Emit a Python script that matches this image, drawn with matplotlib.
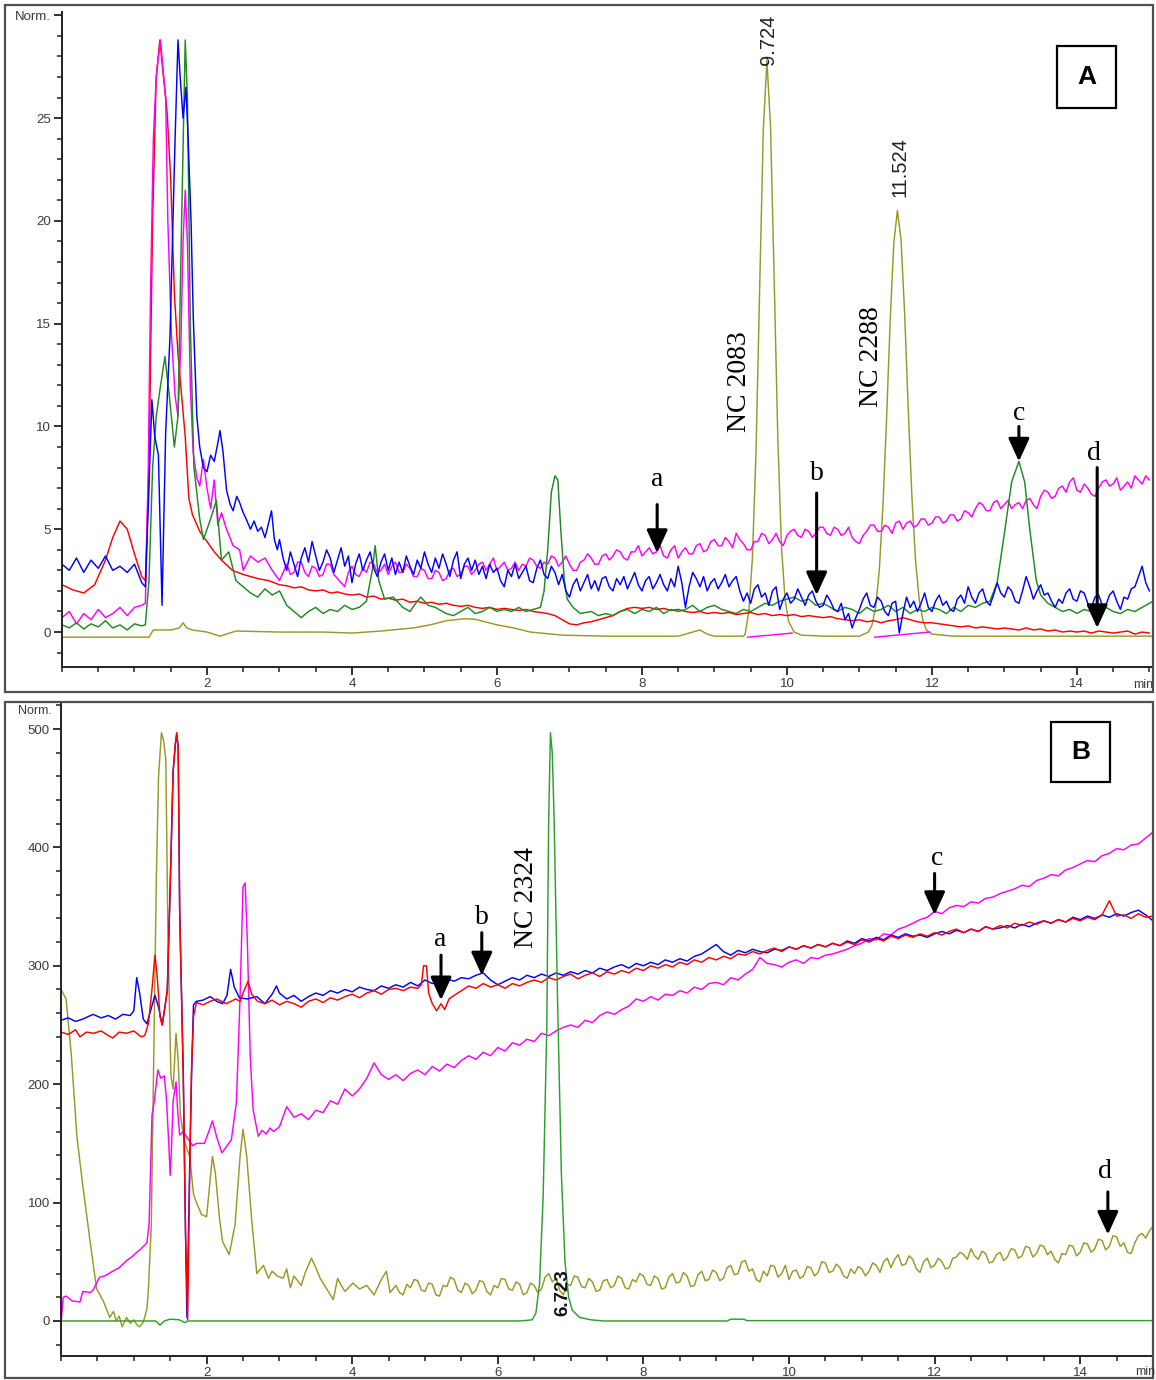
import numpy as np
import matplotlib
matplotlib.use("Agg")
import matplotlib.pyplot as plt
from matplotlib.patches import Rectangle
from matplotlib.ticker import MultipleLocator, FixedLocator

W, H = 1156, 1380
RED = "#ff0000"; BLUE = "#0000ff"; GREEN = "#1f8a1f"; OLIVE = "#9a9826"; MAG = "#ff00ff"
SANS = ["Liberation Sans Narrow", "Liberation Sans", "DejaVu Sans"]
SERIF = ["Liberation Serif", "DejaVu Serif"]


def grid(t0, vals, step=0.1):
    return [round(t0 + step * i, 3) for i in range(len(vals))]


def cat(*segs):
    t, y = [], []
    for st, sy in segs:
        t += list(st); y += list(sy)
    return np.array(t), np.array(y)

# ---------------- Panel A data (minutes, Norm.) ----------------
A_red_pk_t = [0, 0.15, 0.3, 0.45, 0.6, 0.7, 0.8, 0.9, 1.0, 1.1, 1.15, 1.2, 1.25, 1.3, 1.35, 1.4, 1.45, 1.5,
              1.55, 1.6, 1.65, 1.7, 1.75, 1.8, 1.9, 2.0, 2.1, 2.2, 2.35, 2.5, 2.7, 2.85]
A_red_pk_y = [2.3, 2.05, 1.9, 2.3, 3.5, 4.6, 5.4, 5.0, 3.8, 2.7, 2.5, 8.0, 20.0, 27.0, 28.8, 27.0, 25.3, 22.0,
              16.5, 13.5, 11.5, 9.5, 6.5, 5.7, 4.9, 4.4, 3.9, 3.5, 3.0, 2.8, 2.6, 2.5]
A_red_tail = [2.3, 2.25, 2.15, 2.2, 2.05, 2.0, 2.05, 1.9, 1.95, 1.85,
              1.8, 1.85, 1.7, 1.75, 1.6, 1.65, 1.55, 1.6, 1.45, 1.5,
              1.4, 1.45, 1.35, 1.4, 1.3, 1.25, 1.3, 1.2, 1.15, 1.2,
              1.1, 1.15, 1.1, 1.05, 1.1, 1.0, 0.95, 0.9, 0.8, 0.6,
              0.4, 0.35, 0.45, 0.5, 0.6, 0.7, 0.8, 1.0, 1.15, 1.2,
              1.15, 1.2, 1.1, 1.15, 1.05, 1.1, 1.0, 0.95, 1.0, 0.9,
              0.95, 0.9, 0.95, 0.85, 0.9, 0.95, 0.85, 0.9, 0.8, 0.85,
              0.8, 0.85, 0.75, 0.8, 0.75, 0.7, 0.75, 0.65, 0.6, 0.55,
              0.6, 0.5, 0.55, 0.45, 0.55, 0.6, 0.7, 0.6, 0.5, 0.45,
              0.45, 0.4, 0.35, 0.3, 0.25, 0.3, 0.2, 0.25, 0.2, 0.15,
              0.2, 0.15, 0.1, 0.2, 0.1, 0.15, 0.05, 0.1, 0.0, 0.05,
              0.0, 0.05, -0.05, 0.05, 0.0, -0.05, 0.0, 0.05, -0.1, 0.0,
              -0.05]

A_green_t = [0.0, 0.1, 0.2, 0.3, 0.4, 0.5, 0.6, 0.7, 0.8, 0.9, 1.0, 1.1, 1.15, 1.2, 1.25, 1.3, 1.36, 1.42,
             1.48, 1.55, 1.6, 1.65, 1.7, 1.73, 1.77, 1.82, 1.9, 1.95, 2.05, 2.13, 2.2, 2.3, 2.4, 2.5, 2.6,
             2.7, 2.8, 2.9, 3.0, 3.1, 3.2, 3.3, 3.4, 3.5, 3.6, 3.7, 3.8, 3.9, 4.0, 4.1, 4.2, 4.28, 4.32,
             4.37, 4.45, 4.57, 4.7, 4.8, 4.9, 4.95, 5.05, 5.15, 5.3, 5.4, 5.5, 5.6, 5.7, 5.8, 5.9, 6.0,
             6.1, 6.2, 6.3, 6.4, 6.5, 6.6, 6.65, 6.7, 6.75, 6.8, 6.84, 6.88, 6.93, 6.97, 7.05, 7.15, 7.3,
             7.4, 7.5, 7.6, 7.7, 7.8, 7.9, 8.0, 8.1, 8.2, 8.3, 8.4, 8.5, 8.6, 8.7, 8.8, 8.9, 9.0, 9.1,
             9.2, 9.3, 9.4, 9.5, 9.6, 9.7, 9.8, 9.9, 10.0, 10.1, 10.2, 10.3, 10.4, 10.5, 10.6, 10.7,
             10.8, 10.9, 11.0, 11.1, 11.2, 11.3, 11.4, 11.5, 11.6, 11.7, 11.8, 11.9, 12.0, 12.1, 12.2,
             12.3, 12.4, 12.5, 12.6, 12.7, 12.8, 12.9, 13.0, 13.1, 13.2, 13.28, 13.35, 13.44, 13.5, 13.6,
             13.7, 13.8, 13.9, 14.0, 14.1, 14.2, 14.3, 14.4, 14.5, 14.6, 14.7, 14.8, 14.9, 15.0, 15.05]
A_green_y = [0.35, 0.2, 0.45, 0.15, 0.4, 0.25, 0.55, 0.2, 0.35, 0.1, 0.4, 0.3, 0.35, 2.5, 8.0, 10.5, 12.0, 13.4,
             11.5, 9.0, 10.5, 20.0, 28.8, 26.0, 15.0, 8.0, 5.5, 4.5, 5.5, 6.4, 3.5, 3.9, 2.5, 2.2, 1.9,
             1.7, 2.1, 1.8, 2.0, 1.3, 1.0, 0.7, 1.0, 1.2, 0.9, 1.1, 1.0, 1.3, 1.1, 1.2, 1.5, 3.0, 4.2,
             2.5, 1.6, 1.7, 1.2, 1.0, 1.5, 1.7, 1.3, 1.2, 0.9, 0.8, 1.0, 1.2, 0.9, 1.0, 1.2, 1.0,
             1.1, 1.0, 1.2, 1.0, 1.1, 1.2, 2.0, 4.0, 6.8, 7.6, 7.4, 5.0, 2.5, 1.6, 1.2, 0.9, 1.0,
             0.8, 0.9, 0.8, 1.0, 1.1, 0.9, 1.1, 1.0, 1.2, 0.9, 1.1, 1.0, 1.1, 1.3, 1.0, 1.2, 1.3, 1.1,
             1.0, 0.9, 1.1, 1.0, 1.2, 1.4, 1.3, 1.5, 1.6, 1.7, 1.5, 1.6, 1.3, 1.4, 1.2, 1.0,
             1.2, 1.1, 0.9, 1.2, 1.0, 1.1, 1.3, 1.0, 1.2, 0.9, 1.1, 1.0, 1.2, 1.1, 0.9,
             1.2, 1.0, 1.3, 1.2, 1.4, 1.5, 2.4, 4.8, 7.3, 8.3, 7.3, 5.0, 2.5, 1.8, 1.4,
             1.2, 1.0, 1.1, 0.9, 1.1, 1.0, 0.8, 1.2, 1.0, 0.9, 1.1, 1.0, 1.2, 1.4, 1.5]

A_blue_start = [3.3, 3.0, 3.6, 2.9, 3.5, 3.1, 3.7, 3.0, 3.2, 2.9, 3.3, 2.4]
A_blue_pk_t = [1.15, 1.19, 1.24, 1.28, 1.33, 1.38, 1.43, 1.49, 1.56, 1.6, 1.63, 1.67, 1.71, 1.74, 1.78,
               1.81, 1.86, 1.9, 1.95, 2.0, 2.05, 2.1, 2.15, 2.18, 2.22, 2.27, 2.32, 2.36, 2.41, 2.45, 2.5,
               2.54, 2.6, 2.65, 2.7, 2.75, 2.8, 2.85, 2.89, 2.93, 2.97]
A_blue_pk_y = [2.2, 6.0, 11.3, 9.5, 8.6, 1.3, 9.7, 14.4, 24.0, 28.8, 27.0, 25.0, 26.5, 24.0, 20.0,
               15.4, 10.5, 9.0, 8.0, 7.8, 8.6, 8.3, 9.2, 9.8, 8.8, 6.9, 6.2, 5.9, 6.6, 6.3, 5.8,
               5.5, 5.0, 5.4, 4.9, 5.1, 4.6, 5.3, 5.9, 4.5, 4.0]
A_blue_tail = [4.5, 3.6, 3.0, 3.9, 3.3, 2.7, 3.6, 4.1, 3.4, 4.4,
               3.7, 3.0, 3.4, 4.0, 3.6, 2.9, 3.5, 4.1, 3.2, 3.7,
               2.4, 3.3, 3.8, 3.0, 3.5, 3.9, 3.1, 2.7, 3.4, 3.8,
               3.0, 3.6, 2.8, 3.4, 2.9, 3.7, 3.2, 2.8, 3.5, 3.1,
               3.9, 3.3, 2.9, 3.6, 3.1, 3.8, 3.3, 2.7, 3.5, 3.9,
               2.6, 3.3, 3.6, 3.0, 3.5, 2.8, 3.2, 2.6, 3.3, 2.9,
               3.1, 2.5, 2.2, 3.0, 2.7, 3.3, 2.6, 2.9, 3.2, 2.5,
               2.4, 3.1, 3.5, 2.8, 2.6, 3.2, 2.9, 2.3, 2.8, 2.0,
               1.7, 2.3, 2.6, 2.0, 2.4, 2.8, 2.1, 2.5, 2.0, 2.6,
               2.7, 2.2, 2.0, 2.6, 2.3, 2.7, 2.1, 2.5, 2.9, 2.3,
               2.0, 2.5, 2.7, 2.1, 2.4, 2.8, 2.3, 2.0, 2.6, 2.2,
               3.2, 2.4, 1.2, 2.2, 2.9, 2.6, 2.2, 2.7, 2.0, 2.4,
               2.6, 2.1, 2.4, 2.8, 2.2, 2.5, 2.7, 2.0, 1.5, 1.9,
               1.4, 2.1, 2.3, 1.7, 1.9, 1.3, 2.0, 2.2, 1.1, 1.6,
               1.9, 1.4, 1.6, 2.1, 1.7, 1.3, 1.8, 2.0, 1.5, 1.2,
               1.3, 1.8, 1.5, 1.1, 1.0, 1.4, 0.6, 0.9, 0.2, 0.7,
               1.1, 1.6, 1.9, 1.3, 1.2, 1.7, 1.5, 1.0, 0.8, 1.4,
               1.5, -0.05, 0.9, 1.7, 1.2, 1.5, 1.0, 1.4, 1.9, 1.2,
               1.0, 1.5, 1.8, 1.3, 1.5, 1.1, 1.0, 1.6, 1.8, 1.4,
               2.2, 1.7, 1.4, 1.9, 2.1, 1.5, 1.3, 1.8, 2.4, 1.9,
               1.7, 2.2, 2.0, 1.5, 1.4, 2.0, 2.7, 2.2, 1.6, 2.0,
               2.3, 1.8, 1.9, 1.5, 1.2, 1.6, 1.4, 1.9, 2.1, 1.6,
               1.5, 2.0, 1.9, 1.4, 1.2, 1.7, 1.8, 1.3, 1.3, 1.8,
               2.0, 1.5, 1.1, 1.7, 1.6, 2.1, 2.2, 2.7, 3.2, 2.4,
               2.0]

A_mag_start = [0.7, 1.0, 0.4, 0.9, 0.6, 1.1, 0.7, 0.9, 1.2, 0.8, 1.2, 1.3]
A_mag_pk_t = [1.15, 1.19, 1.22, 1.26, 1.3, 1.33, 1.36, 1.39, 1.43, 1.46, 1.51, 1.56, 1.6, 1.64, 1.67,
              1.7, 1.73, 1.77, 1.81, 1.86, 1.9, 1.95, 2.0, 2.05, 2.1, 2.15, 2.2, 2.27, 2.36, 2.45, 2.5,
              2.6, 2.7, 2.8, 2.9, 3.0]
A_mag_pk_y = [1.4, 8.0, 16.3, 24.0, 27.0, 28.0, 28.8, 27.5, 26.0, 20.0, 14.4, 11.5, 10.5, 14.0, 19.0,
              21.5, 19.0, 12.0, 8.7, 7.5, 7.1, 8.4, 7.0, 6.0, 7.4, 5.2, 5.8, 5.0, 4.2, 4.0, 3.0,
              3.7, 3.4, 3.6, 3.0, 2.5]
A_mag_tail = [3.3, 2.8, 2.9, 3.4, 3.4, 2.9, 2.7, 3.2, 3.1, 2.7,
              2.8, 3.3, 3.3, 2.8, 2.6, 2.4, 2.2, 2.9, 3.2, 2.8,
              2.7, 3.1, 2.9, 3.4, 3.3, 2.9, 3.0, 3.3, 2.8, 3.2,
              3.4, 2.9, 2.9, 3.3, 3.1, 2.7, 2.7, 3.1, 3.0, 2.6,
              2.6, 3.0, 2.9, 2.5, 2.6, 3.0, 3.1, 2.7, 2.8, 3.2,
              3.2, 2.8, 3.0, 3.3, 3.4, 3.0, 3.3, 3.6, 3.0, 3.2,
              3.4, 3.0, 3.1, 3.4, 3.0, 3.3, 3.2, 3.6, 3.5, 3.2,
              3.1, 3.4, 3.3, 3.7, 3.6, 3.2, 3.4, 3.7, 3.3, 3.0,
              3.0, 3.4, 3.5, 3.8, 3.6, 3.3, 3.3, 3.7, 3.8, 3.5,
              3.7, 4.0, 3.9, 3.6, 3.5, 3.9, 3.9, 4.2, 3.7, 3.9,
              4.1, 3.8, 3.9, 4.2, 3.7, 3.6, 4.0, 4.2, 3.6, 3.9,
              4.1, 3.8, 3.8, 4.2, 4.3, 3.9, 4.0, 4.4, 4.5, 4.2,
              4.2, 4.6, 4.4, 4.1, 4.8, 4.5, 4.3, 4.0, 4.0, 4.4,
              4.4, 4.8, 4.7, 4.3, 4.5, 4.8, 4.4, 4.2, 4.7, 4.9,
              5.0, 4.7, 4.6, 5.0, 4.9, 4.6, 4.8, 5.1, 5.1, 4.8,
              4.7, 5.1, 5.0, 4.7, 4.8, 5.1, 4.6, 4.4, 4.3, 4.7,
              4.9, 5.2, 5.2, 4.9, 4.9, 5.2, 5.1, 4.8, 5.3, 5.4,
              5.0, 5.3, 5.4, 5.1, 5.2, 5.5, 5.5, 5.2, 5.3, 5.6,
              5.6, 5.3, 5.4, 5.7, 5.7, 5.4, 5.5, 5.9, 5.8, 5.6,
              6.0, 6.3, 6.2, 5.9, 5.9, 6.3, 6.4, 6.0, 6.2, 6.4,
              6.0, 6.2, 6.3, 6.0, 6.4, 6.5, 6.2, 6.0, 6.6, 6.9,
              6.8, 6.5, 6.6, 7.0, 7.1, 6.8, 7.3, 7.5, 6.9, 6.8,
              7.2, 7.0, 6.7, 6.6, 7.0, 7.3, 7.4, 7.1, 7.2, 7.5,
              6.9, 7.1, 7.3, 7.0, 7.6, 7.4, 7.2, 7.6, 7.4]

A_olive_t = [0, 1.2, 1.26, 1.5, 1.62, 1.67, 1.72, 1.8, 2.0, 2.18, 2.4, 3.0, 3.6, 4.0, 4.4, 4.85, 5.08,
             5.3, 5.55, 5.7, 6.0, 6.23, 6.46, 6.9, 7.5, 8.5, 8.7, 8.8, 8.9, 9.0, 9.4,
             9.424, 9.474, 9.524, 9.574, 9.624, 9.674, 9.724, 9.774, 9.824, 9.874, 9.924, 9.974, 10.024,
             10.1, 10.2, 10.5, 11.0, 11.124, 11.174, 11.224, 11.274, 11.324, 11.374, 11.424, 11.474,
             11.524, 11.574, 11.624, 11.674, 11.724, 11.774, 11.824, 11.874, 11.924, 12.0, 12.3, 15.05]
A_olive_y = [-0.25, -0.25, 0.1, 0.1, 0.2, 0.45, 0.2, 0.1, 0.0, -0.2, 0.05, 0.0, 0.0, -0.05, 0.05, 0.2, 0.35,
             0.55, 0.65, 0.62, 0.35, 0.2, 0.0, -0.15, -0.2, -0.2, 0.0, 0.1, -0.1, -0.2, -0.2,
             -0.1, 1.0, 3.6, 8.8, 16.7, 24.4, 27.8, 24.6, 17.2, 9.5, 4.2, 1.6, 0.5,
             0.0, -0.15, -0.2, -0.2, 0.0, 0.35, 1.2, 3.0, 6.1, 10.3, 15.1, 18.9,
             20.5, 19.1, 15.5, 10.8, 6.6, 3.5, 1.6, 0.6, 0.1, -0.1, -0.2, -0.2]

# integration baselines drawn under the two olive peaks
A_base1_t = [9.46, 10.07]; A_base1_y = [-0.25, -0.05]
A_base2_t = [11.21, 11.97]; A_base2_y = [-0.25, 0.0]

# ---------------- Panel B data ----------------
B_green_t = [0, 1.3, 1.36, 1.42, 1.5, 1.62, 1.66, 1.7, 1.74, 6.3, 6.4, 6.473, 6.523, 6.573, 6.623, 6.673,
             6.698, 6.723, 6.748, 6.773, 6.823, 6.873, 6.923, 6.973, 7.023, 7.123, 7.273, 7.45, 9.15,
             9.2, 9.38, 9.42, 15.0]
B_green_y = [0, 0, -3.5, 0, 1.5, 1.0, 0, -1.5, 0, 0, 0.5, 1.0, 6.7, 31, 105, 249,
             420, 497, 480, 425, 265, 125, 50, 20, 9, 3, 1, 0, 0,
             1.5, 1.5, 0.3, 0.3]

B_red_start_t = [0, 0.1, 0.2, 0.26, 0.35, 0.45, 0.55, 0.65, 0.71, 0.8, 0.9, 1.0, 1.1, 1.15, 1.2, 1.25,
                 1.29, 1.32, 1.36, 1.39, 1.42, 1.46, 1.5, 1.54, 1.57, 1.59, 1.61, 1.63, 1.68, 1.71, 1.74,
                 1.76, 1.79, 1.82, 1.86, 1.95, 2.05, 2.14, 2.27, 2.4, 2.46, 2.52, 2.57, 2.62]
B_red_start_y = [244, 242, 246, 240, 244, 243, 245, 241, 239, 244, 243, 245, 240, 241, 251, 280,
                 309, 292, 257, 250, 262, 279, 367, 464, 487, 497, 484, 347, 207, 76, 1,
                 90, 207, 257, 269, 267, 270, 272, 268, 272, 270, 280, 287, 276]
B_red_mid1 = [270, 268, 271, 267, 270, 268, 265, 270, 272, 269, 273, 271, 274, 276, 273, 277, 279, 276,
              280, 281, 279]
B_red_a_t = [4.8, 4.9, 4.95, 4.98, 5.02, 5.05, 5.1, 5.16, 5.22, 5.27, 5.33, 5.4]
B_red_a_y = [282, 281, 284, 300, 300, 277, 268, 262, 268, 263, 272, 275]
B_red_tail = [279, 283, 281, 285, 282,
              284, 281, 285, 283, 286, 288, 286, 290, 288, 291,
              293, 289, 292, 294, 291, 295, 293, 296, 294, 298,
              296, 300, 298, 301, 299, 303, 301, 305, 303, 307,
              305, 308, 306, 310, 309, 312, 310, 313, 315, 312,
              316, 314, 317, 315, 318, 316, 319, 317, 320, 318,
              322, 320, 323, 321, 325, 323, 326, 324, 327, 325,
              328, 326, 329, 331, 328, 331, 329, 333, 331, 334,
              332, 336, 334, 337, 335, 338, 336, 339, 337, 340,
              338, 341, 339, 343, 355, 342, 343, 340, 344, 341,
              342]

B_blue_start_t = [0, 0.1, 0.2, 0.3, 0.44, 0.55, 0.65, 0.75, 0.85, 0.95, 1.0, 1.04, 1.08, 1.13, 1.18,
                  1.23, 1.29, 1.34, 1.39, 1.42, 1.46, 1.5, 1.54, 1.57, 1.59, 1.61, 1.63, 1.68, 1.71,
                  1.73, 1.77, 1.8, 1.82, 1.86, 1.95, 2.05, 2.14, 2.22, 2.28, 2.33, 2.38, 2.45, 2.56,
                  2.69, 2.8, 2.9, 2.96, 3.0]
B_blue_start_y = [254, 256, 253, 255, 259, 256, 258, 255, 259, 258, 262, 290, 277, 255, 251,
                  262, 275, 265, 250, 262, 279, 367, 464, 487, 496, 484, 347, 207, 76,
                  3, 140, 224, 267, 270, 271, 274, 270, 268, 275, 297, 282, 273, 272,
                  274, 268, 276, 283, 277]
B_blue_tail = [272, 275, 270, 274, 277, 275, 279, 277, 280,
               278, 282, 280, 279, 283, 281, 284, 282, 286, 283,
               288, 285, 287, 289, 287, 290, 289, 292, 294, 288,
               284, 287, 290, 288, 292, 290, 293, 291, 294, 292,
               295, 293, 296, 294, 298, 296, 299, 301, 298, 302,
               300, 303, 301, 305, 303, 306, 304, 308, 310, 314,
               318, 312, 309, 313, 311, 314, 312, 311, 314, 313,
               316, 314, 317, 315, 318, 316, 319, 317, 321, 319,
               323, 321, 324, 322, 326, 324, 327, 325, 326, 324,
               327, 329, 327, 330, 328, 331, 329, 333, 331, 332,
               334, 332, 335, 333, 336, 338, 336, 339, 337, 341,
               339, 342, 340, 343, 341, 344, 342, 345, 347, 343,
               338]

B_mag_pk_t = [0, 0.03, 0.07, 0.15, 0.26, 0.3, 0.4, 0.44, 0.53, 0.6, 0.71, 0.8, 0.9, 0.97, 1.04, 1.1, 1.18,
              1.21, 1.25, 1.28, 1.33, 1.37, 1.42, 1.45, 1.48, 1.5, 1.52, 1.54, 1.58, 1.6, 1.63, 1.68, 1.73,
              1.81, 1.86, 1.97, 2.03, 2.08, 2.14, 2.21, 2.27, 2.34, 2.41, 2.46, 2.5, 2.53, 2.56, 2.6, 2.64,
              2.71, 2.76, 2.82, 2.87, 2.92]
B_mag_pk_y = [-3, 20, 21, 17, 16, 25, 24, 26, 37, 38, 42, 45, 51, 54, 58, 61, 66,
              82, 174, 185, 212, 205, 207, 186, 150, 123, 150, 186, 202, 180, 157, 160, 155,
              148, 150, 150, 160, 169, 155, 142, 147, 153, 185, 274, 367, 370, 320, 222, 178,
              156, 161, 158, 163, 160]
B_mag_tail = [164, 181, 172, 175, 170, 178, 176, 186, 183, 196,
              190, 196, 205, 218, 208, 204, 208, 203, 209, 212,
              208, 215, 211, 217, 214, 220, 224, 221, 227, 224,
              231, 228, 235, 233, 238, 236, 243, 241, 245, 248,
              250, 248, 254, 252, 258, 261, 259, 263, 266, 272,
              270, 274, 271, 276, 275, 279, 277, 282, 280, 285,
              286, 284, 290, 288, 293, 297, 307, 302, 301, 299,
              303, 305, 302, 307, 306, 309, 310, 312, 314, 317,
              319, 323, 322, 327, 326, 331, 333, 336, 339, 341,
              346, 344, 349, 351, 350, 354, 353, 357, 358, 361,
              363, 365, 368, 367, 372, 374, 377, 376, 381, 383,
              386, 389, 388, 393, 395, 399, 398, 402, 403, 408,
              413]

B_olive_start_t = [0, 0.07, 0.14, 0.22, 0.3, 0.4, 0.49, 0.58, 0.67, 0.72, 0.76, 0.8, 0.84, 0.9, 0.95, 1.0,
                   1.04, 1.08, 1.13, 1.18, 1.2, 1.24, 1.27, 1.31, 1.34, 1.38, 1.41, 1.44, 1.47, 1.51,
                   1.54, 1.58, 1.61, 1.64, 1.69, 1.77, 1.82, 1.86, 1.93, 2.0, 2.05, 2.08, 2.12, 2.18,
                   2.22, 2.31, 2.39, 2.46, 2.5, 2.55, 2.62, 2.69, 2.78, 2.85, 2.9, 2.97, 3.05, 3.1, 3.15,
                   3.2, 3.3, 3.35, 3.44, 3.5, 3.56, 3.65, 3.74, 3.8, 3.85, 3.9, 4.01, 4.1, 4.2, 4.3, 4.4,
                   4.47, 4.52]
B_olive_start_y = [280, 272, 226, 155, 114, 67, 27, 17, 3, 8, 0, 4, -5, 3, -2, 1,
                   -3, -5, -1, 10, 26, 80, 207, 375, 460, 497, 490, 474, 322, 207,
                   196, 243, 220, 174, 153, 138, 107, 100, 90, 88, 120, 139, 125, 85,
                   67, 56, 81, 139, 162, 140, 85, 40, 47, 36, 42, 38, 36, 44, 28,
                   38, 30, 40, 53, 45, 36, 27, 18, 36, 30, 25, 32, 27, 30, 22, 35,
                   42, 24]
B_olive_tail = [30, 24, 22, 31, 28, 35, 34, 26, 25, 32,
                31, 22, 21, 30, 29, 37, 35, 26, 24, 32,
                30, 23, 26, 34, 33, 25, 22, 30, 28, 36,
                35, 27, 26, 33, 31, 22, 24, 32, 30, 24,
                27, 37, 40, 33, 36, 26, 22, 31, 30, 38,
                37, 29, 28, 36, 33, 25, 26, 34, 35, 28,
                30, 38, 36, 28, 27, 35, 33, 40, 38, 31,
                30, 38, 36, 27, 28, 37, 40, 32, 33, 41,
                38, 29, 30, 39, 42, 34, 35, 43, 41, 34,
                36, 45, 47, 39, 40, 50, 51, 42, 44, 35,
                33, 42, 38, 47, 46, 37, 40, 47, 35, 42,
                43, 36, 38, 46, 45, 38, 41, 50, 49, 41,
                42, 48, 45, 38, 36, 44, 40, 46, 44, 38,
                42, 49, 47, 41, 50, 53, 45, 52, 56, 47,
                48, 55, 52, 44, 41, 50, 53, 45, 47, 53,
                50, 44, 45, 53, 54, 58, 56, 52, 61, 55,
                52, 59, 57, 49, 50, 56, 58, 51, 54, 61,
                60, 53, 55, 63, 62, 54, 57, 64, 63, 56,
                59, 52, 49, 57, 56, 64, 63, 55, 58, 66,
                65, 58, 61, 69, 68, 60, 63, 72, 71, 63,
                66, 58, 57, 66, 72, 74, 70, 76, 80]

# ---------------- assemble traces ----------------
A_red = cat((A_red_pk_t, A_red_pk_y), (grid(3.0, A_red_tail), A_red_tail))
A_blue = cat((grid(0.0, A_blue_start), A_blue_start), (A_blue_pk_t, A_blue_pk_y),
             (grid(3.0, A_blue_tail, 0.05), A_blue_tail))
A_mag = cat((grid(0.0, A_mag_start), A_mag_start), (A_mag_pk_t, A_mag_pk_y),
            (grid(3.1, A_mag_tail, 0.05), A_mag_tail))
B_red = cat((B_red_start_t, B_red_start_y), (grid(2.7, B_red_mid1), B_red_mid1),
            (B_red_a_t, B_red_a_y), (grid(5.5, B_red_tail), B_red_tail))
B_blue = cat((B_blue_start_t, B_blue_start_y), (grid(3.1, B_blue_tail), B_blue_tail))
B_mag = cat((B_mag_pk_t, B_mag_pk_y), (grid(3.0, B_mag_tail), B_mag_tail))
B_olive = cat((B_olive_start_t, B_olive_start_y), (grid(4.6, B_olive_tail, 0.05), B_olive_tail))

fig = plt.figure(figsize=(W / 100, H / 100), dpi=100)


def fbox(x0, y0, x1, y1):
    return [x0 / W, 1 - y1 / H, (x1 - x0) / W, (y1 - y0) / H]


for (x0, y0, x1, y1) in [(5, 5, 1153, 692), (5, 702, 1153, 1378)]:
    fig.patches.append(Rectangle((x0 / W, 1 - y1 / H), (x1 - x0) / W, (y1 - y0) / H,
                                 transform=fig.transFigure, fill=False, ec="#505050", lw=1.6))

axA = fig.add_axes(fbox(62, 12, 1153, 667))
axB = fig.add_axes(fbox(61, 703, 1153, 1356))

LW = 1.05


def style(ax, xlim, ylim, ymaj, ymin_step, ylabels):
    ax.set_xlim(*xlim); ax.set_ylim(*ylim)
    for s in ["top", "right"]:
        ax.spines[s].set_visible(False)
    for s in ["left", "bottom"]:
        ax.spines[s].set_color("#222222"); ax.spines[s].set_linewidth(1.4)
    ax.xaxis.set_major_locator(FixedLocator([2, 4, 6, 8, 10, 12, 14]))
    ax.xaxis.set_minor_locator(MultipleLocator(0.5))
    ax.yaxis.set_major_locator(FixedLocator(ymaj))
    ax.yaxis.set_minor_locator(MultipleLocator(ymin_step))
    ax.set_yticklabels(ylabels)
    ax.tick_params(which="major", length=6, width=1.3, direction="out", color="#222222",
                   labelsize=9.5, labelcolor="#3a3a3a", pad=2)
    ax.tick_params(which="minor", length=3.5, width=1.1, direction="out", color="#222222")
    for lab in ax.get_xticklabels() + ax.get_yticklabels():
        lab.set_family(SANS)
    ax.patch.set_alpha(0)


style(axA, (0, 15.05), (-1.7, 30.16), [0, 5, 10, 15, 20, 25, 30], 1,
      ["0", "5", "10", "15", "20", "25", "Norm."])
style(axB, (0, 15.0), (-29.6, 522), [0, 100, 200, 300, 400, 500], 20,
      ["0", "100", "200", "300", "400", "500"])

# panel A traces
axA.plot(A_olive_t, A_olive_y, color=OLIVE, lw=LW)
axA.plot(A_base1_t, A_base1_y, color=MAG, lw=LW)
axA.plot(A_base2_t, A_base2_y, color=MAG, lw=LW)
axA.plot(A_red[0], A_red[1], color=RED, lw=LW)
axA.plot(A_mag[0], A_mag[1], color=MAG, lw=LW)
axA.plot(A_green_t, A_green_y, color=GREEN, lw=LW)
axA.plot(A_blue[0], A_blue[1], color=BLUE, lw=LW)

# panel B traces
axB.plot(B_olive[0], B_olive[1], color=OLIVE, lw=LW)
axB.plot(B_mag[0], B_mag[1], color=MAG, lw=LW)
axB.plot(B_blue[0], B_blue[1], color=BLUE, lw=LW)
axB.plot(B_red[0], B_red[1], color=RED, lw=LW)
axB.plot(B_green_t, B_green_y, color="#2ea02e", lw=LW)

# axis extras
fig.text(1153 / W, 1 - 685 / H, "min", ha="right", va="center", fontsize=9, color="#3a3a3a", family=SANS)
fig.text(1155 / W, 1 - 1372 / H, "min", ha="right", va="center", fontsize=9, color="#3a3a3a", family=SANS)
fig.text(52 / W, 1 - 711 / H, "Norm.", ha="right", va="center", fontsize=9, color="#3a3a3a", family=SANS)


def arrow(ax, x, y0, y1):
    ax.annotate("", xy=(x, y1), xytext=(x, y0),
                arrowprops=dict(arrowstyle="-|>,head_length=0.7,head_width=0.32", color="black",
                                lw=2.2, mutation_scale=20, shrinkA=0, shrinkB=0))

txt = dict(family=SERIF, fontsize=20, ha="center", va="center", color="black")
num = dict(rotation=90, ha="center", va="center", fontsize=14.5, family=SANS, color="#222222")
axA.text(9.74, 28.8, "9.724", **num)
axA.text(11.56, 22.6, "11.524", **num)
axA.text(9.35, 12.2, "NC 2083", rotation=90, **txt)
axA.text(11.17, 13.4, "NC 2288", rotation=90, **txt)
axA.text(8.21, 7.4, "a", **txt); arrow(axA, 8.21, 6.2, 3.85)
axA.text(10.41, 7.73, "b", **txt); arrow(axA, 10.41, 6.76, 1.8)
axA.text(13.2, 10.65, "c", **txt); arrow(axA, 13.2, 10.0, 8.3)
axA.text(14.23, 8.7, "d", **txt); arrow(axA, 14.28, 8.0, 0.2)

axB.text(6.4, 358, "NC 2324", rotation=90, **txt)
axB.text(6.9, 23.6, "6.723", rotation=90, ha="center", va="center", fontsize=13.5,
         family=SANS, fontweight="bold", color="#111111")
axB.text(5.21, 322, "a", **txt); arrow(axB, 5.22, 309, 271)
axB.text(5.78, 341, "b", **txt); arrow(axB, 5.78, 328, 292)
axB.text(12.03, 391, "c", **txt); arrow(axB, 12.0, 378, 343)
axB.text(14.34, 126, "d", **txt); arrow(axB, 14.38, 109, 73)

# panel letter boxes
for (x0, y0, x1, y1, letter) in [(1057, 46, 1116, 108, "A"), (1051, 722, 1110, 782, "B")]:
    fig.patches.append(Rectangle((x0 / W, 1 - y1 / H), (x1 - x0) / W, (y1 - y0) / H,
                                 transform=fig.transFigure, fc="white", ec="black", lw=1.6))
    fig.text((x0 + x1) / 2 / W, 1 - (y0 + y1) / 2 / H, letter, ha="center", va="center",
             fontsize=19, fontweight="bold", family=["Liberation Sans", "DejaVu Sans"])

fig.savefig("out.png", dpi=100)
